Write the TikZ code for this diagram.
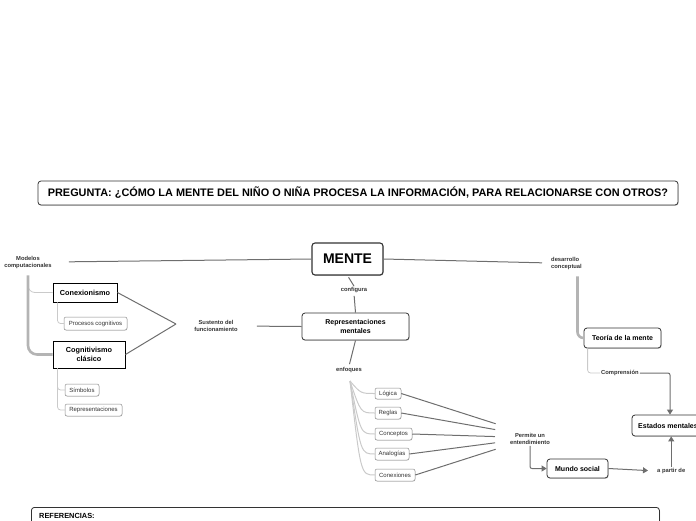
\documentclass[tikz,border=0pt]{standalone}
\usepackage{fontspec}
\setmainfont{Liberation Sans}
\usetikzlibrary{arrows.meta,shadows}
\definecolor{inkgray}{HTML}{333333}
\definecolor{edgegray}{HTML}{6E6E6E}
\definecolor{bargray}{HTML}{B4B4B4}
\definecolor{twiggray}{HTML}{CACACA}
\definecolor{leafgray}{HTML}{8A8A8A}

\begin{document}
\begin{tikzpicture}[x=1pt,y=-1pt,font=\fontsize{6}{7.2}\selectfont,>={Triangle[width=6pt,length=5pt]},
  box/.style={draw=inkgray,line width=0.8pt,rounded corners=3pt,fill=white,align=center,inner sep=1pt,
    drop shadow={shadow xshift=0.6pt,shadow yshift=-0.9pt,opacity=0.35},font=\fontsize{7}{8.4}\selectfont\bfseries},
  sharpbox/.style={draw=black,line width=0.9pt,fill=white,align=center,inner sep=1pt,font=\fontsize{7.3}{8.8}\selectfont\bfseries},
  leaf/.style={draw=leafgray,line width=0.5pt,rounded corners=2pt,fill=white,align=center,inner sep=1pt,
    drop shadow={shadow xshift=0.4pt,shadow yshift=-0.6pt,opacity=0.25},text=inkgray},
  lbl/.style={align=center,inner sep=1pt,text=inkgray,font=\fontsize{5.8}{7}\selectfont\bfseries},
  edge/.style={draw=edgegray,line width=1pt},
  bar/.style={draw=bargray,line width=2.6pt},
  twig/.style={draw=twiggray,line width=0.8pt}]
  \useasboundingbox (0,0) rectangle (696,520);

  \node[box,minimum width=640pt,minimum height=24pt,font=\fontsize{10.9}{13}\selectfont\bfseries] (title) at (358,193) {PREGUNTA: ¿CÓMO LA MENTE DEL NIÑO O NIÑA PROCESA LA INFORMACIÓN, PARA RELACIONARSE CON OTROS?};
  \node[box,line width=1.1pt,minimum width=71pt,minimum height=32pt,font=\fontsize{14}{16}\selectfont\bfseries] (mente) at (347.5,259) {MENTE};
  \node[lbl] (modelos) at (28,262) {Modelos\\computacionales};
  \node[lbl,anchor=west,align=left] (desarrollo) at (550,263) {desarrollo\\conceptual};
  \node[sharpbox,minimum width=64pt,minimum height=19pt] (conex) at (85,292.5) {Conexionismo};
  \node[leaf,minimum width=63pt,minimum height=13pt] (proc) at (95.5,323.5) {Procesos cognitivos};
  \node[sharpbox,minimum width=72pt,minimum height=27pt] (cog) at (89,354.5) {Cognitivismo\\clásico};
  \node[leaf,minimum width=34pt,minimum height=12pt] (simb) at (82,390) {Símbolos};
  \node[leaf,minimum width=57pt,minimum height=12pt] (repr) at (93.5,410) {Representaciones};
  \coordinate (join) at (176,324);
  \node[lbl] (sustento) at (216,326) {Sustento del\\funcionamiento};
  \node[box,minimum width=107pt,minimum height=27pt] (repm) at (355.5,326.5) {Representaciones\\mentales};
  \node[lbl] (configura) at (354,290) {configura};
  \node[lbl] (enfoques) at (349,370) {enfoques};
  \coordinate (fan) at (350,381);
  \node[leaf,minimum width=26pt,minimum height=11pt] (logica) at (388,393.5) {Lógica};
  \node[leaf,minimum width=26pt,minimum height=12pt] (reglas) at (388,413) {Reglas};
  \node[leaf,minimum width=37pt,minimum height=12pt] (conceptos) at (393.5,434) {Conceptos};
  \node[leaf,minimum width=34pt,minimum height=12pt] (analogias) at (392,454) {Analogías};
  \node[leaf,minimum width=40pt,minimum height=12pt] (conexiones) at (395,475) {Conexiones};
  \node[lbl] (permite) at (530,439) {Permite un\\entendimiento};
  \node[box,minimum width=61pt,minimum height=19pt] (mundo) at (577.5,468.5) {Mundo social};
  \node[lbl,anchor=west] (partir) at (656,471) {a partir de};
  \node[box,minimum width=72pt,minimum height=21pt] (estados) at (668,425.5) {Estados mentales};
  \node[box,minimum width=77pt,minimum height=20pt] (teoria) at (622.5,338) {Teoría de la mente};
  \node[lbl,anchor=west] (comp) at (600,373) {Comprensión};
  \node[box,anchor=north west,minimum width=628pt,minimum height=40pt] (refs) at (31,507) {};
  \node[anchor=west,inner sep=0pt,font=\fontsize{7.4}{9}\selectfont\bfseries] (reftitle) at (39,516) {REFERENCIAS:};

  \draw[edge,shorten <=16pt] (modelos.east) -- (mente.west);
  \draw[edge,shorten >=8pt] (mente.east) -- (desarrollo.west);
  \draw[edge,shorten <=2pt] (mente.south) -- (configura.north);
  \draw[edge,shorten <=2pt] (configura.south) -- (repm.north);
  \draw[edge,shorten >=2pt] (repm.south) -- (enfoques.north);
  \draw[edge] (conex.east) -- (join);
  \draw[edge] (cog.east) -- (join);
  \draw[edge,shorten <=18pt] (sustento.east) -- (repm.west);
  \draw[twig,rounded corners=7pt] ([yshift=-14pt]modelos.south) |- (conex.west);
  \draw[bar,rounded corners=9pt] ([yshift=-6pt]modelos.south) |- (cog.west);
  \draw[twig,rounded corners=3pt] ([xshift=5pt]conex.south west) |- (proc.west);
  \draw[twig,rounded corners=3pt] ([xshift=5pt]cog.south west) |- (simb.west);
  \draw[twig,rounded corners=3pt] ([xshift=5pt]cog.south west) |- (repr.west);
  \draw[bar,rounded corners=6pt] ([xshift=11pt,yshift=-6pt]desarrollo.south) |- (teoria.west);
  \draw[twig,rounded corners=3pt] ([xshift=4pt]teoria.south west) |- (comp.west);
  \draw[edge,->,rounded corners=2pt] (comp.east) -| ([xshift=2pt]estados.north);
  \foreach \n/\dy in {logica/11,reglas/7,conceptos/2,analogias/-2,conexiones/-6} {
    \draw[twig,line width=1pt] (fan) .. controls ([xshift=-14pt]\n.west) .. (\n.west);
    \draw[edge,shorten >=14pt] (\n.east) -- ([yshift=\dy pt]permite.west);
  }
  \draw[edge,->,rounded corners=2pt] (permite.south) |- (mundo.west);
  \draw[edge,->,shorten >=8pt] (mundo.east) -- (partir.west);
  \draw[edge,->] (partir.north) -- (partir.north |- estados.south);
\end{tikzpicture}
\end{document}
